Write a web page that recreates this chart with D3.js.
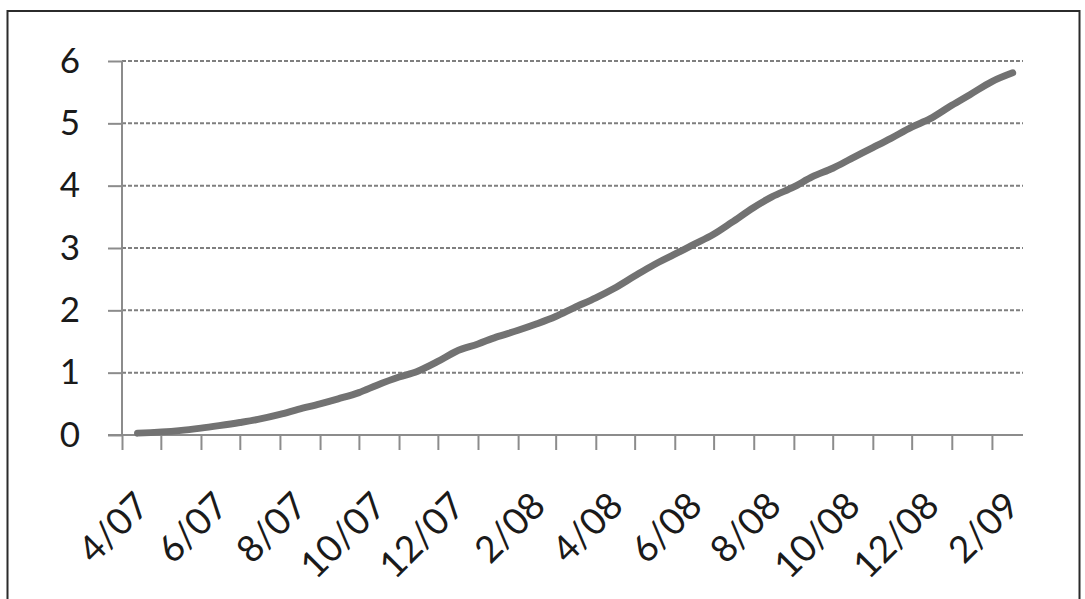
<!DOCTYPE html>
<html>
<head>
<meta charset="utf-8">
<script src="https://cdn.jsdelivr.net/npm/d3@7"></script>
<style>
  html, body { margin: 0; padding: 0; background: #fff; }
  svg { display: block; }
  .lbl { font-family: Lato, "Open Sans", sans-serif; fill: #1a1a1a; }
</style>
</head>
<body>
<svg id="chart" width="1085" height="599"></svg>
<script>
// Cumulative series, sampled twice a month (date, value)
const dates = [
  "2007-04-13","2007-05-15","2007-06-01","2007-06-15","2007-07-01","2007-07-15",
  "2007-08-01","2007-08-15","2007-09-01","2007-09-15","2007-10-01","2007-10-15",
  "2007-11-01","2007-11-15","2007-12-01","2007-12-15","2008-01-01","2008-01-15",
  "2008-02-01","2008-02-15","2008-03-01","2008-03-15","2008-04-01","2008-04-15",
  "2008-05-01","2008-05-15","2008-06-01","2008-06-15","2008-07-01","2008-07-15",
  "2008-08-01","2008-08-15","2008-09-01","2008-09-15","2008-10-01","2008-10-15",
  "2008-11-01","2008-11-15","2008-12-01","2008-12-15","2009-01-01","2009-01-15",
  "2009-02-01","2009-02-17"
];
const values = [
  0.03, 0.07, 0.11, 0.15, 0.20, 0.25,
  0.33, 0.41, 0.50, 0.58, 0.68, 0.80,
  0.93, 1.02, 1.18, 1.34, 1.46, 1.57,
  1.68, 1.78, 1.90, 2.04, 2.20, 2.35,
  2.55, 2.72, 2.90, 3.05, 3.22, 3.41,
  3.65, 3.82, 3.98, 4.14, 4.28, 4.43,
  4.61, 4.76, 4.94, 5.07, 5.29, 5.46,
  5.67, 5.81
];
// Axis labels
const yTicks = [0, 1, 2, 3, 4, 5, 6];
const xLabels = ["4/07","6/07","8/07","10/07","12/07","2/08","4/08","6/08","8/08","10/08","12/08","2/09"];
const axisStart = "2007-04-01";
const axisEnd = "2009-02-25";

(function draw() {
  const parse = d3.utcParse("%Y-%m-%d");
  const data = dates.map((d, i) => ({ date: parse(d), value: values[i] }));

  const svg = d3.select("#chart");

  // outer frame
  svg.append("rect")
    .attr("x", 7.5).attr("y", 11).attr("width", 1072).attr("height", 620)
    .attr("fill", "none").attr("stroke", "#2b2b2b").attr("stroke-width", 2);

  const plotL = 122, plotR = 1023, plotT = 61, plotB = 435;

  const x = d3.scaleUtc().domain([parse(axisStart), parse(axisEnd)]).range([plotL, plotR]);
  const y = d3.scaleLinear().domain([0, 6]).range([plotB, plotT]);

  const axisColor = "#8c8c8c";

  // dashed horizontal gridlines
  svg.append("g").selectAll("line")
    .data(yTicks.filter(v => v > 0))
    .join("line")
    .attr("x1", plotL).attr("x2", plotR)
    .attr("y1", d => y(d)).attr("y2", d => y(d))
    .attr("stroke", "#7f7f7f").attr("stroke-width", 2)
    .attr("stroke-dasharray", "4,2");

  // y axis with outward ticks
  const yAxis = svg.append("g")
    .attr("transform", `translate(${plotL},0)`)
    .call(d3.axisLeft(y).tickValues(yTicks).tickSize(14).tickPadding(28).tickFormat(d3.format("d")));
  yAxis.select(".domain").attr("stroke", axisColor).attr("stroke-width", 2)
    .attr("d", `M0,${y(6)}V${y(0)}`);
  yAxis.selectAll(".tick line").attr("stroke", axisColor).attr("stroke-width", 2);
  yAxis.selectAll(".tick text").attr("class", "lbl")
    .attr("font-size", 35).attr("fill", "#1a1a1a");

  // x axis: a tick at each month start
  const monthTicks = d3.utcMonth.range(parse(axisStart), d3.utcDay.offset(parse(axisEnd), 1));
  const xAxis = svg.append("g")
    .attr("transform", `translate(0,${plotB})`)
    .call(d3.axisBottom(x).tickValues(monthTicks).tickSize(15).tickFormat(""));
  xAxis.select(".domain").attr("stroke", axisColor).attr("stroke-width", 2)
    .attr("d", `M${plotL - 14},0H${plotR}`);
  xAxis.selectAll(".tick line").attr("stroke", axisColor).attr("stroke-width", 2);

  // rotated month labels, centred on every second month
  const labelDates = xLabels.map(s => {
    const [m, yy] = s.split("/").map(Number);
    return new Date(Date.UTC(2000 + yy, m - 1, 16));
  });
  svg.append("g").selectAll("text")
    .data(xLabels)
    .join("text")
    .attr("class", "lbl")
    .attr("font-size", 37)
    .attr("text-anchor", "end")
    .attr("transform", (d, i) => `translate(${x(labelDates[i]) + 10},${plotB + 73}) rotate(-45)`)
    .text(d => d);

  // data line
  const line = d3.line()
    .x(d => x(d.date))
    .y(d => y(d.value))
    .curve(d3.curveMonotoneX);

  svg.append("path")
    .datum(data)
    .attr("d", line)
    .attr("fill", "none")
    .attr("stroke", "#727272")
    .attr("stroke-width", 7)
    .attr("stroke-linecap", "round")
    .attr("stroke-linejoin", "round");
})();
</script>
</body>
</html>
